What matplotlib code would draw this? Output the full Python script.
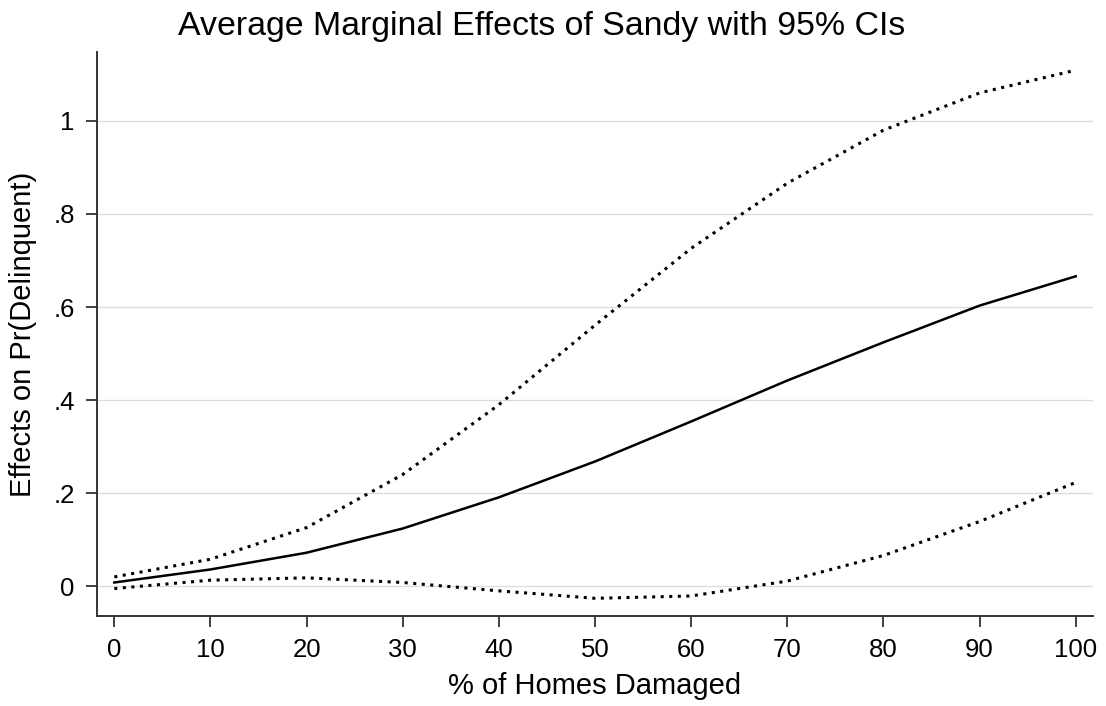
import matplotlib.pyplot as plt
import numpy as np

plt.rcParams["font.family"] = ["Liberation Sans", "DejaVu Sans"]

# Average marginal effects of Sandy with 95% confidence bounds
pct_damaged = [0, 10, 20, 30, 40, 50, 60, 70, 80, 90, 100]
ame = [0.008, 0.036, 0.072, 0.124, 0.191, 0.268, 0.354, 0.442, 0.524, 0.603, 0.666]
ci_upper = [0.020, 0.058, 0.126, 0.240, 0.390, 0.561, 0.726, 0.866, 0.980, 1.060, 1.109]
ci_lower = [-0.005, 0.013, 0.018, 0.008, -0.010, -0.026, -0.021, 0.011, 0.066, 0.139, 0.223]

y_ticks = [0, 0.2, 0.4, 0.6, 0.8, 1.0]
y_ticklabels = ["0", ".2", ".4", ".6", ".8", "1"]
x_ticks = list(range(0, 101, 10))

fig = plt.figure(figsize=(11.06, 7.06), dpi=100)
ax = fig.add_axes([97 / 1106, 1 - 616 / 706, (1093 - 97) / 1106, (616 - 52) / 706])

dot = (0, (1.0, 1.8))
ax.plot(pct_damaged, ci_upper, color="black", linewidth=2.2, linestyle=dot)
ax.plot(pct_damaged, ame, color="black", linewidth=1.8)
ax.plot(pct_damaged, ci_lower, color="black", linewidth=2.2, linestyle=dot)

ax.set_xlim(-1.8, 101.8)
ax.set_ylim(-0.064, 1.148)
ax.set_xticks(x_ticks)
ax.set_yticks(y_ticks)
ax.set_yticklabels(y_ticklabels)

ax.grid(axis="y", color="#dcdcdc", linewidth=0.9)
ax.set_axisbelow(True)
for side in ("top", "right"):
    ax.spines[side].set_visible(False)
for side in ("left", "bottom"):
    ax.spines[side].set_color("#333333")
    ax.spines[side].set_linewidth(1.4)

ax.tick_params(axis="both", direction="out", length=8, width=1.3, color="#333333",
               labelsize=18.5, pad=8)

ax.set_xlabel("% of Homes Damaged", fontsize=21, labelpad=7)
ax.set_ylabel("Effects on Pr(Delinquent)", fontsize=21, labelpad=12)
fig.suptitle("Average Marginal Effects of Sandy with 95% CIs", fontsize=24.4, x=0.49, y=0.985)

fig.savefig("out.png", dpi=100, facecolor="white")
